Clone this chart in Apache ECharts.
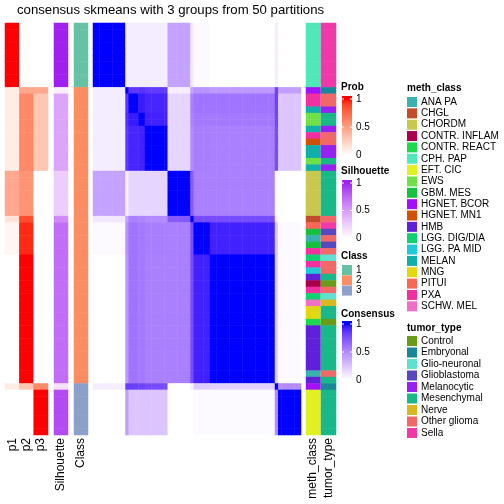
<!DOCTYPE html>
<html><head><meta charset="utf-8">
<script src="https://cdn.jsdelivr.net/npm/echarts@6/dist/echarts.min.js"></script>
<style>html,body{margin:0;padding:0;background:#fff}#c{width:504px;height:504px}</style>
</head><body><div id="c"></div>
<script>
// ---- data ----
// sample groups in display order (rows == columns)
const groupSizes = [10, 1, 3, 2, 7, 7, 1, 5, 20, 1, 7];
// consensus values between groups (symmetric)
const consensusBlocks = [
  [1.00, 0.08, 0.08, 0.08, 0.08, 0.40, 0.10, 0.02, 0.00, 0.07, 0.00],
  [0.08, 1.00, 0.86, 0.88, 0.85, 0.07, 0.40, 0.47, 0.44, 0.82, 0.42],
  [0.08, 0.86, 1.00, 0.95, 0.92, 0.18, 0.55, 0.60, 0.60, 0.82, 0.24],
  [0.08, 0.88, 0.95, 1.00, 0.93, 0.18, 0.53, 0.58, 0.58, 0.80, 0.25],
  [0.08, 0.85, 0.92, 0.93, 1.00, 0.18, 0.50, 0.56, 0.55, 0.78, 0.25],
  [0.40, 0.07, 0.18, 0.18, 0.18, 1.00, 0.72, 0.55, 0.55, 0.00, 0.00],
  [0.10, 0.40, 0.55, 0.53, 0.50, 0.72, 1.00, 0.78, 0.78, 0.06, 0.00],
  [0.02, 0.47, 0.60, 0.58, 0.56, 0.55, 0.78, 1.00, 0.93, 0.22, 0.02],
  [0.00, 0.44, 0.60, 0.58, 0.55, 0.55, 0.78, 0.93, 1.00, 0.20, 0.02],
  [0.07, 0.82, 0.82, 0.80, 0.78, 0.00, 0.06, 0.22, 0.20, 1.00, 0.50],
  [0.00, 0.42, 0.24, 0.25, 0.25, 0.00, 0.00, 0.02, 0.02, 0.50, 1.00]
];
const p1Groups = [1.00, 0.10, 0.10, 0.10, 0.10, 0.45, 0.15, 0.05, 0.00, 0.10, 0.00];
const p2Groups = [0.00, 0.45, 0.60, 0.60, 0.60, 0.55, 0.85, 0.95, 1.00, 0.30, 0.00];
const p3Groups = [0.00, 0.45, 0.30, 0.30, 0.30, 0.00, 0.00, 0.00, 0.00, 0.60, 1.00];
const silhouetteGroups = [1.00, 0.08, 0.45, 0.45, 0.45, 0.25, 0.58, 0.72, 0.72, 0.15, 0.86];
const classGroups = [1, 2, 2, 2, 2, 2, 2, 2, 2, 3, 3];

const methNames = ['ANA PA','CHGL','CHORDM','CONTR. INFLAM','CONTR. REACT','CPH. PAP','EFT. CIC','EWS','GBM. MES','HGNET. BCOR','HGNET. MN1','HMB','LGG. DIG/DIA','LGG. PA MID','MELAN','MNG','PITUI','PXA','SCHW. MEL'];
const methColors = ['#3AB0B0','#C04E2A','#C8C84E','#A8004A','#20D850','#50E8B8','#E0F020','#70E048','#18C040','#A010F8','#D05008','#6020D8','#10D070','#20C8D8','#10B0A8','#E0D810','#F86858','#F030A0','#F070C8'];
const tumorNames = ['Control','Embryonal','Glio-neuronal','Glioblastoma','Melanocytic','Mesenchymal','Nerve','Other glioma','Sella'];
const tumorColors = ['#6A9A18','#188898','#60E0D0','#5848C0','#9820F0','#18B888','#D8B820','#F06868','#F038A8'];

const methRows = [
 'CPH. PAP','CPH. PAP','CPH. PAP','CPH. PAP','CPH. PAP','CPH. PAP','CPH. PAP','CPH. PAP','CPH. PAP','CPH. PAP',
 'HGNET. BCOR','PXA','PXA','MELAN','EWS','EWS','MELAN','PXA','HGNET. MN1','MELAN','MELAN','EWS','MELAN',
 'CHORDM','CHORDM','CHORDM','CHORDM','CHORDM','CHORDM','CHORDM',
 'CHGL','PITUI','GBM. MES','ANA PA','GBM. MES','PXA','LGG. DIG/DIA','PXA','LGG. PA MID','HMB','CONTR. INFLAM','PXA','LGG. DIG/DIA','SCHW. MEL','MNG','MNG','CONTR. REACT',
 'HMB','HMB','HMB','HMB','HMB','HMB','HMB','ANA PA','HMB',
 'HGNET. BCOR','EFT. CIC','EFT. CIC','EFT. CIC','EFT. CIC','EFT. CIC','EFT. CIC','EFT. CIC'
];
const tumorRows = [
 'Sella','Sella','Sella','Sella','Sella','Sella','Sella','Sella','Sella','Sella',
 'Embryonal','Other glioma','Other glioma','Melanocytic','Mesenchymal','Mesenchymal','Melanocytic','Other glioma','Other glioma','Melanocytic','Melanocytic','Mesenchymal','Melanocytic',
 'Mesenchymal','Mesenchymal','Mesenchymal','Mesenchymal','Mesenchymal','Mesenchymal','Mesenchymal',
 'Other glioma','Sella','Glioblastoma','Other glioma','Glioblastoma','Other glioma','Glio-neuronal','Other glioma','Other glioma','Mesenchymal','Control','Other glioma','Glio-neuronal','Nerve','Mesenchymal','Mesenchymal','Control',
 'Mesenchymal','Mesenchymal','Mesenchymal','Mesenchymal','Mesenchymal','Mesenchymal','Mesenchymal','Other glioma','Mesenchymal',
 'Embryonal','Mesenchymal','Mesenchymal','Mesenchymal','Mesenchymal','Mesenchymal','Mesenchymal','Mesenchymal'
];
const annoLabels = ['p1','p2','p3','Silhouette','Class','meth_class','tumor_type'];
const legendTicks = ['1','0.5','0'];
const titleText = 'consensus skmeans with 3 groups from 50 partitions';

// ---- colour helpers (LAB interpolation like colorRamp2) ----
function s2l(c){c/=255;return c<=0.04045?c/12.92:Math.pow((c+0.055)/1.055,2.4);}
function l2s(c){c=Math.max(0,Math.min(1,c));return Math.round(255*(c<=0.0031308?12.92*c:1.055*Math.pow(c,1/2.4)-0.055));}
function hex2lab(h){const r=s2l(parseInt(h.slice(1,3),16)),g=s2l(parseInt(h.slice(3,5),16)),b=s2l(parseInt(h.slice(5,7),16));
 let X=(0.4124*r+0.3576*g+0.1805*b)/0.95047,Y=0.2126*r+0.7152*g+0.0722*b,Z=(0.0193*r+0.1192*g+0.9505*b)/1.08883;
 const f=t=>t>0.008856?Math.cbrt(t):7.787*t+16/116;const fx=f(X),fy=f(Y),fz=f(Z);return [116*fy-16,500*(fx-fy),200*(fy-fz)];}
function lab2hex(L,a,b){const fy=(L+16)/116,fx=fy+a/500,fz=fy-b/200;const fi=t=>t>0.206893?t*t*t:(t-16/116)/7.787;
 const X=fi(fx)*0.95047,Y=fi(fy),Z=fi(fz)*1.08883;
 const r=3.2406*X-1.5372*Y-0.4986*Z,g=-0.9689*X+1.8758*Y+0.0415*Z,bb=0.0557*X-0.2040*Y+1.0570*Z;
 return '#'+[l2s(r),l2s(g),l2s(bb)].map(v=>v.toString(16).padStart(2,'0')).join('');}
function ramp(hi){const A=hex2lab('#FFFFFF'),B=hex2lab(hi);const out=[];for(let i=0;i<=20;i++){const t=i/20;out.push(lab2hex(A[0]+(B[0]-A[0])*t,A[1]+(B[1]-A[1])*t,A[2]+(B[2]-A[2])*t));}return out;}
const redRamp=ramp('#FF0000'), purpleRamp=ramp('#A020F0'), blueRamp=ramp('#0000FF');
const classColors=['#66C2A5','#FC8D62','#8DA0CB'];

// ---- build series data ----
const rowGroup=[];groupSizes.forEach((s,g)=>{for(let k=0;k<s;k++)rowGroup.push(g);});
const N=rowGroup.length;
const rowsCat=[...Array(N).keys()].map(String);
const pData=[],silData=[],classData=[],mainData=[],methData=[],tumorData=[];
for(let r=0;r<N;r++){const g=rowGroup[r];
 pData.push([0,r,p1Groups[g]],[1,r,p2Groups[g]],[2,r,p3Groups[g]]);
 silData.push([0,r,silhouetteGroups[g]]);
 classData.push([0,r,classGroups[g]]);
 methData.push([0,r,methNames.indexOf(methRows[r])]);
 tumorData.push([0,r,tumorNames.indexOf(tumorRows[r])]);
 for(let c=0;c<N;c++)mainData.push([c,r,consensusBlocks[g][rowGroup[c]]]);
}
const colsCat=[...Array(N).keys()].map(String);

const FONT='"Liberation Sans", Arial, Helvetica, sans-serif';
const gridsDef=[[5,43],[54,14],[74,14],[93,208],[306,14.5],[321,15]];
const grid=gridsDef.map(d=>({left:d[0],top:23,width:d[1],height:412,containLabel:false}));
const xCats=[['p1','p2','p3'],['s'],['c'],colsCat,['m'],['t']];
const xAxis=xCats.map((c,i)=>({type:'category',gridIndex:i,data:c,show:false}));
const yAxis=xCats.map((c,i)=>({type:'category',gridIndex:i,data:rowsCat,inverse:true,show:false}));
function hm(i,data){return {type:'heatmap',xAxisIndex:i,yAxisIndex:i,data:data,progressive:0,emphasis:{disabled:true},itemStyle:{borderWidth:0}};}
const series=[hm(0,pData),hm(1,silData),hm(2,classData),hm(3,mainData),hm(4,methData),hm(5,tumorData)];
const visualMap=[
 {type:'continuous',min:0,max:1,seriesIndex:0,dimension:2,show:false,inRange:{color:redRamp}},
 {type:'continuous',min:0,max:1,seriesIndex:1,dimension:2,show:false,inRange:{color:purpleRamp}},
 {type:'piecewise',seriesIndex:2,dimension:2,show:false,pieces:classColors.map((c,i)=>({value:i+1,color:c}))},
 {type:'continuous',min:0,max:1,seriesIndex:3,dimension:2,show:false,inRange:{color:blueRamp}},
 {type:'piecewise',seriesIndex:4,dimension:2,show:false,pieces:methColors.map((c,i)=>({value:i,color:c}))},
 {type:'piecewise',seriesIndex:5,dimension:2,show:false,pieces:tumorColors.map((c,i)=>({value:i,color:c}))}
];

// ---- graphic: labels and legends ----
const G=[];
function txt(x,y,s,opt){G.push(Object.assign({type:'text',x:x,y:y,silent:true,style:Object.assign({text:s,font:'12px '+FONT,fill:'#000',textAlign:'left',textVerticalAlign:'middle'},opt||{})}));}
const labX=[12.5,27,41,61,81,313,328.5];
annoLabels.forEach((s,i)=>{G.push({type:'text',x:labX[i],y:438,rotation:Math.PI/2,silent:true,style:{text:s,font:'12px '+FONT,fill:'#000',textAlign:'right',textVerticalAlign:'middle'}});});
function gradLegend(title,ty,y0,y1,rampArr,tickYs){
 txt(341,ty,title,{font:'bold 10px '+FONT});
 const stops=rampArr.slice().reverse().map((c,i)=>({offset:i/(rampArr.length-1),color:c}));
 G.push({type:'rect',shape:{x:342,y:tickYs[0],width:10,height:tickYs[2]-tickYs[0]},silent:true,style:{fill:new echarts.graphic.LinearGradient(0,0,0,1,stops)}});
 G.push({type:'rect',shape:{x:342,y:y0,width:10,height:tickYs[0]-y0},silent:true,style:{fill:rampArr[rampArr.length-1]}});
 [0,1].forEach(k=>{const y=tickYs[k];
   G.push({type:'line',shape:{x1:342,y1:y,x2:344,y2:y},silent:true,style:{stroke:'#fff',lineWidth:1}});
   G.push({type:'line',shape:{x1:350,y1:y,x2:352,y2:y},silent:true,style:{stroke:'#fff',lineWidth:1}});});
 legendTicks.forEach((s,k)=>txt(356,tickYs[k],s,{font:'10px '+FONT}));
}
gradLegend('Prob',87,96,[99,127,155],redRamp,[99,127,155]);
gradLegend('Silhouette',171,180,[183,210.5,238],purpleRamp,[183,210.5,238]);
txt(341,256,'Class',{font:'bold 10px '+FONT});
classColors.forEach((c,i)=>{G.push({type:'rect',shape:{x:342,y:265+i*10.3,width:10,height:10},silent:true,style:{fill:c}});txt(356,270+i*10.3,String(i+1),{font:'10px '+FONT});});
gradLegend('Consensus',314,321,[324,352,380],blueRamp,[324,352,380]);
txt(407,88,'meth_class',{font:'bold 10px '+FONT});
methNames.forEach((n,i)=>{const y=97+i*11.35;G.push({type:'rect',shape:{x:407,y:y,width:10,height:10},silent:true,style:{fill:methColors[i]}});txt(421,y+5,n,{font:'10px '+FONT});});
txt(407,328,'tumor_type',{font:'bold 10px '+FONT});
tumorNames.forEach((n,i)=>{const y=336+i*11.5;G.push({type:'rect',shape:{x:407,y:y,width:10,height:10},silent:true,style:{fill:tumorColors[i]}});txt(421,y+5,n,{font:'10px '+FONT});});
txt(17,10,titleText,{font:'13.2px '+FONT});

const chart=echarts.init(document.getElementById('c'),null,{renderer:'canvas'});
chart.setOption({animation:false,backgroundColor:'#fff',
 grid:grid,xAxis:xAxis,yAxis:yAxis,visualMap:visualMap,series:series,graphic:G});
</script></body></html>
